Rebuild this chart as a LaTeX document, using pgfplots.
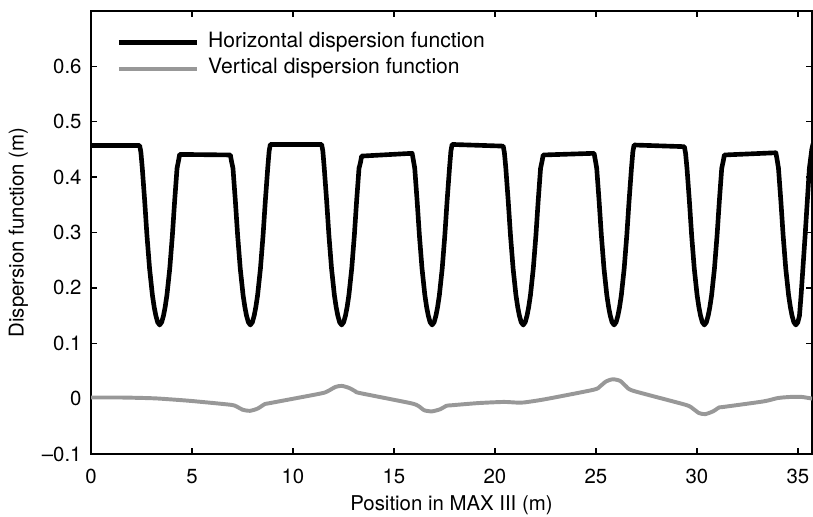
\documentclass[border=0pt]{standalone}
\usepackage{fontspec}
\setmainfont{TeX Gyre Heros}
\usepackage{pgfplots}
\pgfplotsset{compat=1.18}
\definecolor{vgray}{RGB}{152,152,152}

\begin{document}
\fontsize{14.5}{17}\selectfont
\begin{tikzpicture}
\begin{axis}[
    scale only axis,
    width=180.25mm, height=110.75mm,
    xmin=0, xmax=35.7,
    ymin=-0.1, ymax=0.7,
    xtick={0,5,10,15,20,25,30,35},
    xticklabels={0,5,10,15,20,25,30,35},
    ytick={-0.1,0,0.1,0.2,0.3,0.4,0.5,0.6},
    yticklabels={\textendash0.1,0,0.1,0.2,0.3,0.4,0.5,0.6},
    tick align=inside,
    tick pos=both,
    major tick length=1.5mm,
    axis line style={line width=1.2pt},
    every tick/.style={black, line width=0.9pt},
    xticklabel style={yshift=-2mm},
    yticklabel style={xshift=-0.6mm},
    xlabel={Position in MAX III (m)},
    xlabel style={yshift=0.5mm},
    ylabel={Dispersion function (m)},
    legend cell align=left,
    legend image code/.code={\draw[#1] (0mm,0mm) -- (19.5mm,0mm);},
    legend style={draw=none, fill=none, at={(0,1)}, anchor=north west,
        xshift=6.3mm, yshift=-5.2mm, inner sep=0pt, column sep=2.25mm, row sep=1.5mm,
        font=\fontsize{15}{18}\selectfont,
        nodes={inner sep=0pt, text height=0.75em, text depth=0.25em}},
]

% horizontal dispersion
\addplot[black, line width=3.3pt, line join=round] coordinates {
(0,0.457) (2.41,0.457) (2.47,0.445) (2.54,0.416) (2.66,0.356) (2.77,0.295) (2.90,0.235) (3.04,0.187) (3.13,0.165) (3.21,0.150) (3.30,0.138) (3.40,0.133) (3.50,0.138) (3.59,0.150) (3.67,0.165) (3.76,0.187) (3.90,0.235) (4.03,0.295) (4.14,0.356) (4.26,0.416) (4.33,0.429) (4.39,0.441)
(6.90,0.440) (6.96,0.428) (7.03,0.416) (7.15,0.356) (7.26,0.295) (7.39,0.235) (7.53,0.187) (7.62,0.165) (7.70,0.150) (7.79,0.138) (7.89,0.133) (7.99,0.138) (8.08,0.150) (8.16,0.165) (8.25,0.187) (8.39,0.235) (8.52,0.295) (8.63,0.356) (8.75,0.416) (8.82,0.447) (8.88,0.459)
(11.42,0.459) (11.48,0.447) (11.55,0.416) (11.67,0.356) (11.78,0.295) (11.91,0.235) (12.05,0.187) (12.14,0.165) (12.22,0.150) (12.31,0.138) (12.41,0.133) (12.51,0.138) (12.60,0.150) (12.68,0.165) (12.77,0.187) (12.91,0.235) (13.04,0.295) (13.15,0.356) (13.27,0.416) (13.34,0.426) (13.40,0.438)
(15.90,0.443) (15.96,0.431) (16.03,0.416) (16.15,0.356) (16.26,0.295) (16.39,0.235) (16.53,0.187) (16.62,0.165) (16.70,0.150) (16.79,0.138) (16.89,0.133) (16.99,0.138) (17.08,0.150) (17.16,0.165) (17.25,0.187) (17.39,0.235) (17.52,0.295) (17.63,0.356) (17.75,0.416) (17.82,0.447) (17.88,0.459)
(20.41,0.456) (20.47,0.444) (20.54,0.416) (20.66,0.356) (20.77,0.295) (20.90,0.235) (21.04,0.187) (21.13,0.165) (21.21,0.150) (21.30,0.138) (21.40,0.133) (21.50,0.138) (21.59,0.150) (21.67,0.165) (21.76,0.187) (21.90,0.235) (22.03,0.295) (22.14,0.356) (22.26,0.416) (22.33,0.428) (22.39,0.440)
(24.91,0.443) (24.97,0.431) (25.04,0.416) (25.16,0.356) (25.27,0.295) (25.40,0.235) (25.54,0.187) (25.63,0.165) (25.71,0.150) (25.80,0.138) (25.90,0.133) (26.00,0.138) (26.09,0.150) (26.17,0.165) (26.26,0.187) (26.40,0.235) (26.53,0.295) (26.64,0.356) (26.76,0.416) (26.83,0.446) (26.89,0.458)
(29.38,0.455) (29.44,0.443) (29.51,0.416) (29.63,0.356) (29.74,0.295) (29.87,0.235) (30.01,0.187) (30.10,0.165) (30.18,0.150) (30.27,0.138) (30.37,0.133) (30.47,0.138) (30.56,0.150) (30.64,0.165) (30.73,0.187) (30.87,0.235) (31.00,0.295) (31.11,0.356) (31.23,0.416) (31.30,0.428) (31.36,0.440)
(33.91,0.444) (33.97,0.432) (34.04,0.416) (34.16,0.356) (34.27,0.295) (34.40,0.235) (34.54,0.187) (34.63,0.165) (34.71,0.150) (34.80,0.138) (34.90,0.133) (35.00,0.138) (35.08,0.150) (35.16,0.187) (35.36,0.295) (35.57,0.416) (35.69,0.450) (35.75,0.460)
};
\addlegendentry{Horizontal dispersion function}

% vertical dispersion
\addplot[vgray, line width=2.8pt, smooth, tension=0.4] coordinates {
(0,0.002) (1.5,0.002) (2.75,0.001) (3.4,0.000) (4.9,-0.004) (6.88,-0.011) (7.2,-0.014) (7.5,-0.020) (7.87,-0.022) (8.25,-0.018) (8.6,-0.010) (8.87,-0.008)
(11.34,0.009) (11.7,0.013) (12.1,0.021) (12.42,0.023) (12.8,0.019) (13.1,0.013) (13.32,0.010)
(15.8,-0.008) (16.2,-0.013) (16.5,-0.021) (16.88,-0.023) (17.3,-0.019) (17.6,-0.013) (17.86,-0.012)
(19.2,-0.008) (20.43,-0.006) (21.0,-0.007) (21.42,-0.007) (22.5,-0.001)
(24.88,0.016) (25.2,0.022) (25.5,0.031) (25.83,0.035) (26.2,0.032) (26.5,0.022) (26.86,0.014)
(29.42,-0.011) (29.8,-0.018) (30.1,-0.026) (30.41,-0.028) (30.8,-0.023) (31.1,-0.016) (31.32,-0.015)
(33.3,-0.005) (34.0,0.001) (34.62,0.003) (35.2,0.003) (35.7,0.000)
};
\addlegendentry{Vertical dispersion function}

\end{axis}
\pgfresetboundingbox
\path[use as bounding box] (-22.75mm,-15.6mm) rectangle (180.5mm,113.5mm);
\end{tikzpicture}
\end{document}
